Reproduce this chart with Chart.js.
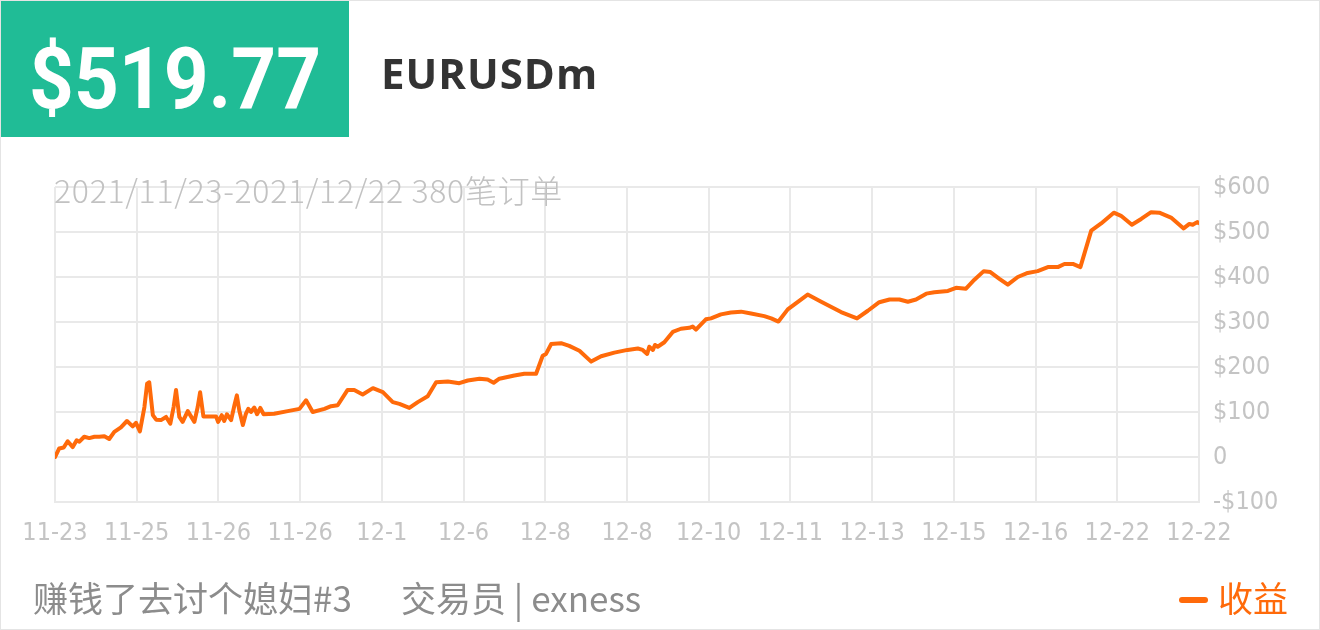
<!DOCTYPE html>
<html>
<head>
<meta charset="utf-8">
<script src="https://cdn.jsdelivr.net/npm/chart.js@4/dist/chart.umd.min.js"></script>
<style>
  html, body { margin: 0; padding: 0; background: #fff; }
  #page { position: relative; width: 1320px; height: 630px; overflow: hidden; box-sizing: border-box; border: 1px solid #e4e4e4; }
  #chart { position: absolute; left: 0; top: 0; }
  #badge { position: absolute; left: 0; top: 0; width: 348px; height: 136px; background: #20bc96; }
  #amount { position: absolute; left: 28px; top: 28px; color: #fff; font-family: Roboto, "DejaVu Sans", sans-serif; font-weight: 700; font-size: 86px; line-height: 100px; transform: scaleX(0.91); transform-origin: left top; white-space: nowrap; }
  #symbol { position: absolute; left: 380px; top: 46px; color: #333; font-family: "Open Sans", "DejaVu Sans", sans-serif; font-weight: 700; font-size: 42px; line-height: 52px; letter-spacing: 1px; white-space: nowrap; }
  #sub { position: absolute; left: 53px; top: 168px; color: #c2c2c2; font-family: "Noto Sans CJK SC", "Open Sans", sans-serif; font-weight: 300; font-size: 32px; line-height: 40px; letter-spacing: 0.7px; white-space: nowrap; z-index: 2; }
  .foot { position: absolute; top: 573px; color: #8c8c8c; font-family: "Noto Sans CJK SC", "Open Sans", sans-serif; font-size: 35px; line-height: 46px; white-space: nowrap; }
  #legend { position: absolute; left: 1178px; top: 573px; color: #ff6a0a; font-family: "Noto Sans CJK SC", sans-serif; font-size: 35px; line-height: 46px; white-space: nowrap; }
  #legend .dash { display: inline-block; width: 29px; height: 6px; border-radius: 3px; background: #ff6a0a; vertical-align: middle; margin-right: 10px; position: relative; top: -3px; }
</style>
</head>
<body>
<div id="page">
  <canvas id="chart" width="1320" height="630"></canvas>
  <div id="badge"><div id="amount">$519.77</div></div>
  <div id="symbol">EURUSDm</div>
  <div id="sub">2021/11/23-2021/12/22 380笔订单</div>
  <div class="foot" style="left:32px">赚钱了去讨个媳妇#3</div>
  <div class="foot" style="left:400px">交易员 | exness</div>
  <div id="legend"><span class="dash"></span>收益</div>
</div>
<script>
const TOTAL_ORDERS = 380;
const xTickLabels = ['11-23','11-25','11-26','11-26','12-1','12-6','12-8','12-8','12-10','12-11','12-13','12-15','12-16','12-22','12-22'];
const seriesName = '收益';
const orderIdx = [
  0, 1.4, 2.9, 4.2, 5.9, 7.2, 8.1, 9.7, 11.4, 13.1, 14.7, 16.4, 18.0, 19.7, 21.9, 23.9, 25.8, 26.9, 28.2,
  29.7, 30.6, 31.3, 32.5, 33.6, 35.2, 36.9, 38.3, 39.4, 40.2, 41.3, 42.4, 44.1, 46.3, 47.4, 48.2, 49.3,
  51.2, 53.5, 54.2, 55.4, 56.2, 57.1, 58.5, 59.6, 60.4, 61.2, 62.4, 63.4, 64.2, 65.1, 66.2, 67.1, 68.2,
  69.3, 72.8, 77.3, 81.2, 83.4, 85.6, 89.5, 91.7, 93.9, 97.2, 99.4, 102.2, 105.6, 108.9, 112.2, 114.4,
  117.7, 120.5, 123.8, 126.6, 130.5, 134.3, 137.1, 141.0, 143.7, 145.7, 147.6, 152.6, 155.9, 159.8,
  162.0, 163.1, 164.8, 168.1, 170.8, 174.2, 178.1, 181.4, 185.8, 190.2, 193.6, 195.2, 196.7, 197.4,
  198.6, 199.3, 200.2, 202.4, 205.2, 207.9, 210.7, 211.8, 212.9, 216.2, 217.9, 221.2, 224.5, 227.9,
  231.2, 235.6, 237.9, 240.3, 243.4, 250.0, 254.5, 261.1, 266.4, 270.0, 273.8, 277.2, 280.5, 283.3,
  286.0, 289.4, 292.1, 296.6, 299.3, 302.6, 305.4, 308.5, 310.7, 313.7, 316.5, 319.8, 323.1, 326.4,
  329.8, 333.1, 335.3, 338.1, 340.6, 344.2, 347.5, 351.7, 354.1, 357.7, 360.8, 364.1, 366.8, 370.7,
  374.9, 376.8, 377.9, 379.4, 380
];
const profit = [
  0, 19, 21, 35, 22, 37, 34, 45, 42, 45, 45, 46, 40, 56, 66, 80, 68, 76, 57,
  111, 163, 166, 93, 83, 82, 89, 74, 111, 149, 89, 78, 102, 78, 111, 144, 90,
  90, 90, 78, 93, 80, 95, 82, 115, 137, 104, 71, 96, 107, 100, 110, 95, 109,
  95, 96, 102, 107, 126, 100, 107, 113, 115, 149, 149, 139, 153, 144, 122, 118,
  109, 122, 135, 166, 168, 164, 170, 174, 172, 165, 174, 181, 185, 185,
  225, 229, 251, 253, 247, 236, 212, 224, 232, 238, 241, 238, 229, 245,
  238, 249, 245, 255, 278, 285, 287, 290, 283, 306, 308, 317, 321, 323,
  319, 313, 308, 301, 328, 361, 345, 322, 308, 325, 344, 350, 350, 345,
  350, 363, 366, 369, 376, 374, 394, 413, 411, 396, 383, 400, 409, 413,
  422, 422, 429, 429, 422, 503, 519, 543, 536, 516, 529, 544, 543, 532,
  508, 518, 516, 522, 519.77
];
const yMin = -100, yMax = 600, yStep = 100;

const axisFont = { family: '"Liberation Sans Narrow", "DejaVu Sans Condensed", "Roboto Condensed", Roboto, sans-serif', size: 25 };
const gridColor = '#e9e9e9';

new Chart(document.getElementById('chart'), {
  type: 'line',
  data: {
    datasets: [{
      label: seriesName,
      data: orderIdx.map((x, i) => ({ x: x, y: profit[i] })),
      borderColor: '#ff6a0a',
      backgroundColor: '#ff6a0a',
      borderWidth: 4,
      borderJoinStyle: 'round',
      borderCapStyle: 'round',
      pointRadius: 0,
      tension: 0,
      fill: false
    }]
  },
  options: {
    responsive: false,
    animation: false,
    layout: { padding: { left: 54, top: 186, right: 0, bottom: 0 } },
    plugins: { legend: { display: false }, tooltip: { enabled: false } },
    scales: {
      x: {
        type: 'linear',
        min: 0,
        max: TOTAL_ORDERS,
        afterBuildTicks: s => { s.ticks = xTickLabels.map((_, i) => ({ value: i * TOTAL_ORDERS / (xTickLabels.length - 1) })); },
        afterFit: s => { s.height = 129; },
        grid: { color: gridColor, lineWidth: 2, drawTicks: false },
        border: { display: true, color: gridColor, width: 2 },
        ticks: {
          autoSkip: false, maxRotation: 0, minRotation: 0,
          padding: 16, color: '#c4c4c4', font: axisFont,
          callback: (v, i) => xTickLabels[i]
        }
      },
      y: {
        position: 'right',
        min: yMin, max: yMax,
        afterFit: s => { s.width = 122; },
        grid: { color: gridColor, lineWidth: 2, drawTicks: false },
        border: { display: true, color: gridColor, width: 2 },
        ticks: {
          stepSize: yStep, padding: 14, color: '#c4c4c4', font: axisFont,
          callback: v => v === 0 ? '0' : (v < 0 ? '-$' + Math.abs(v) : '$' + v)
        }
      }
    }
  }
});
</script>
</body>
</html>
